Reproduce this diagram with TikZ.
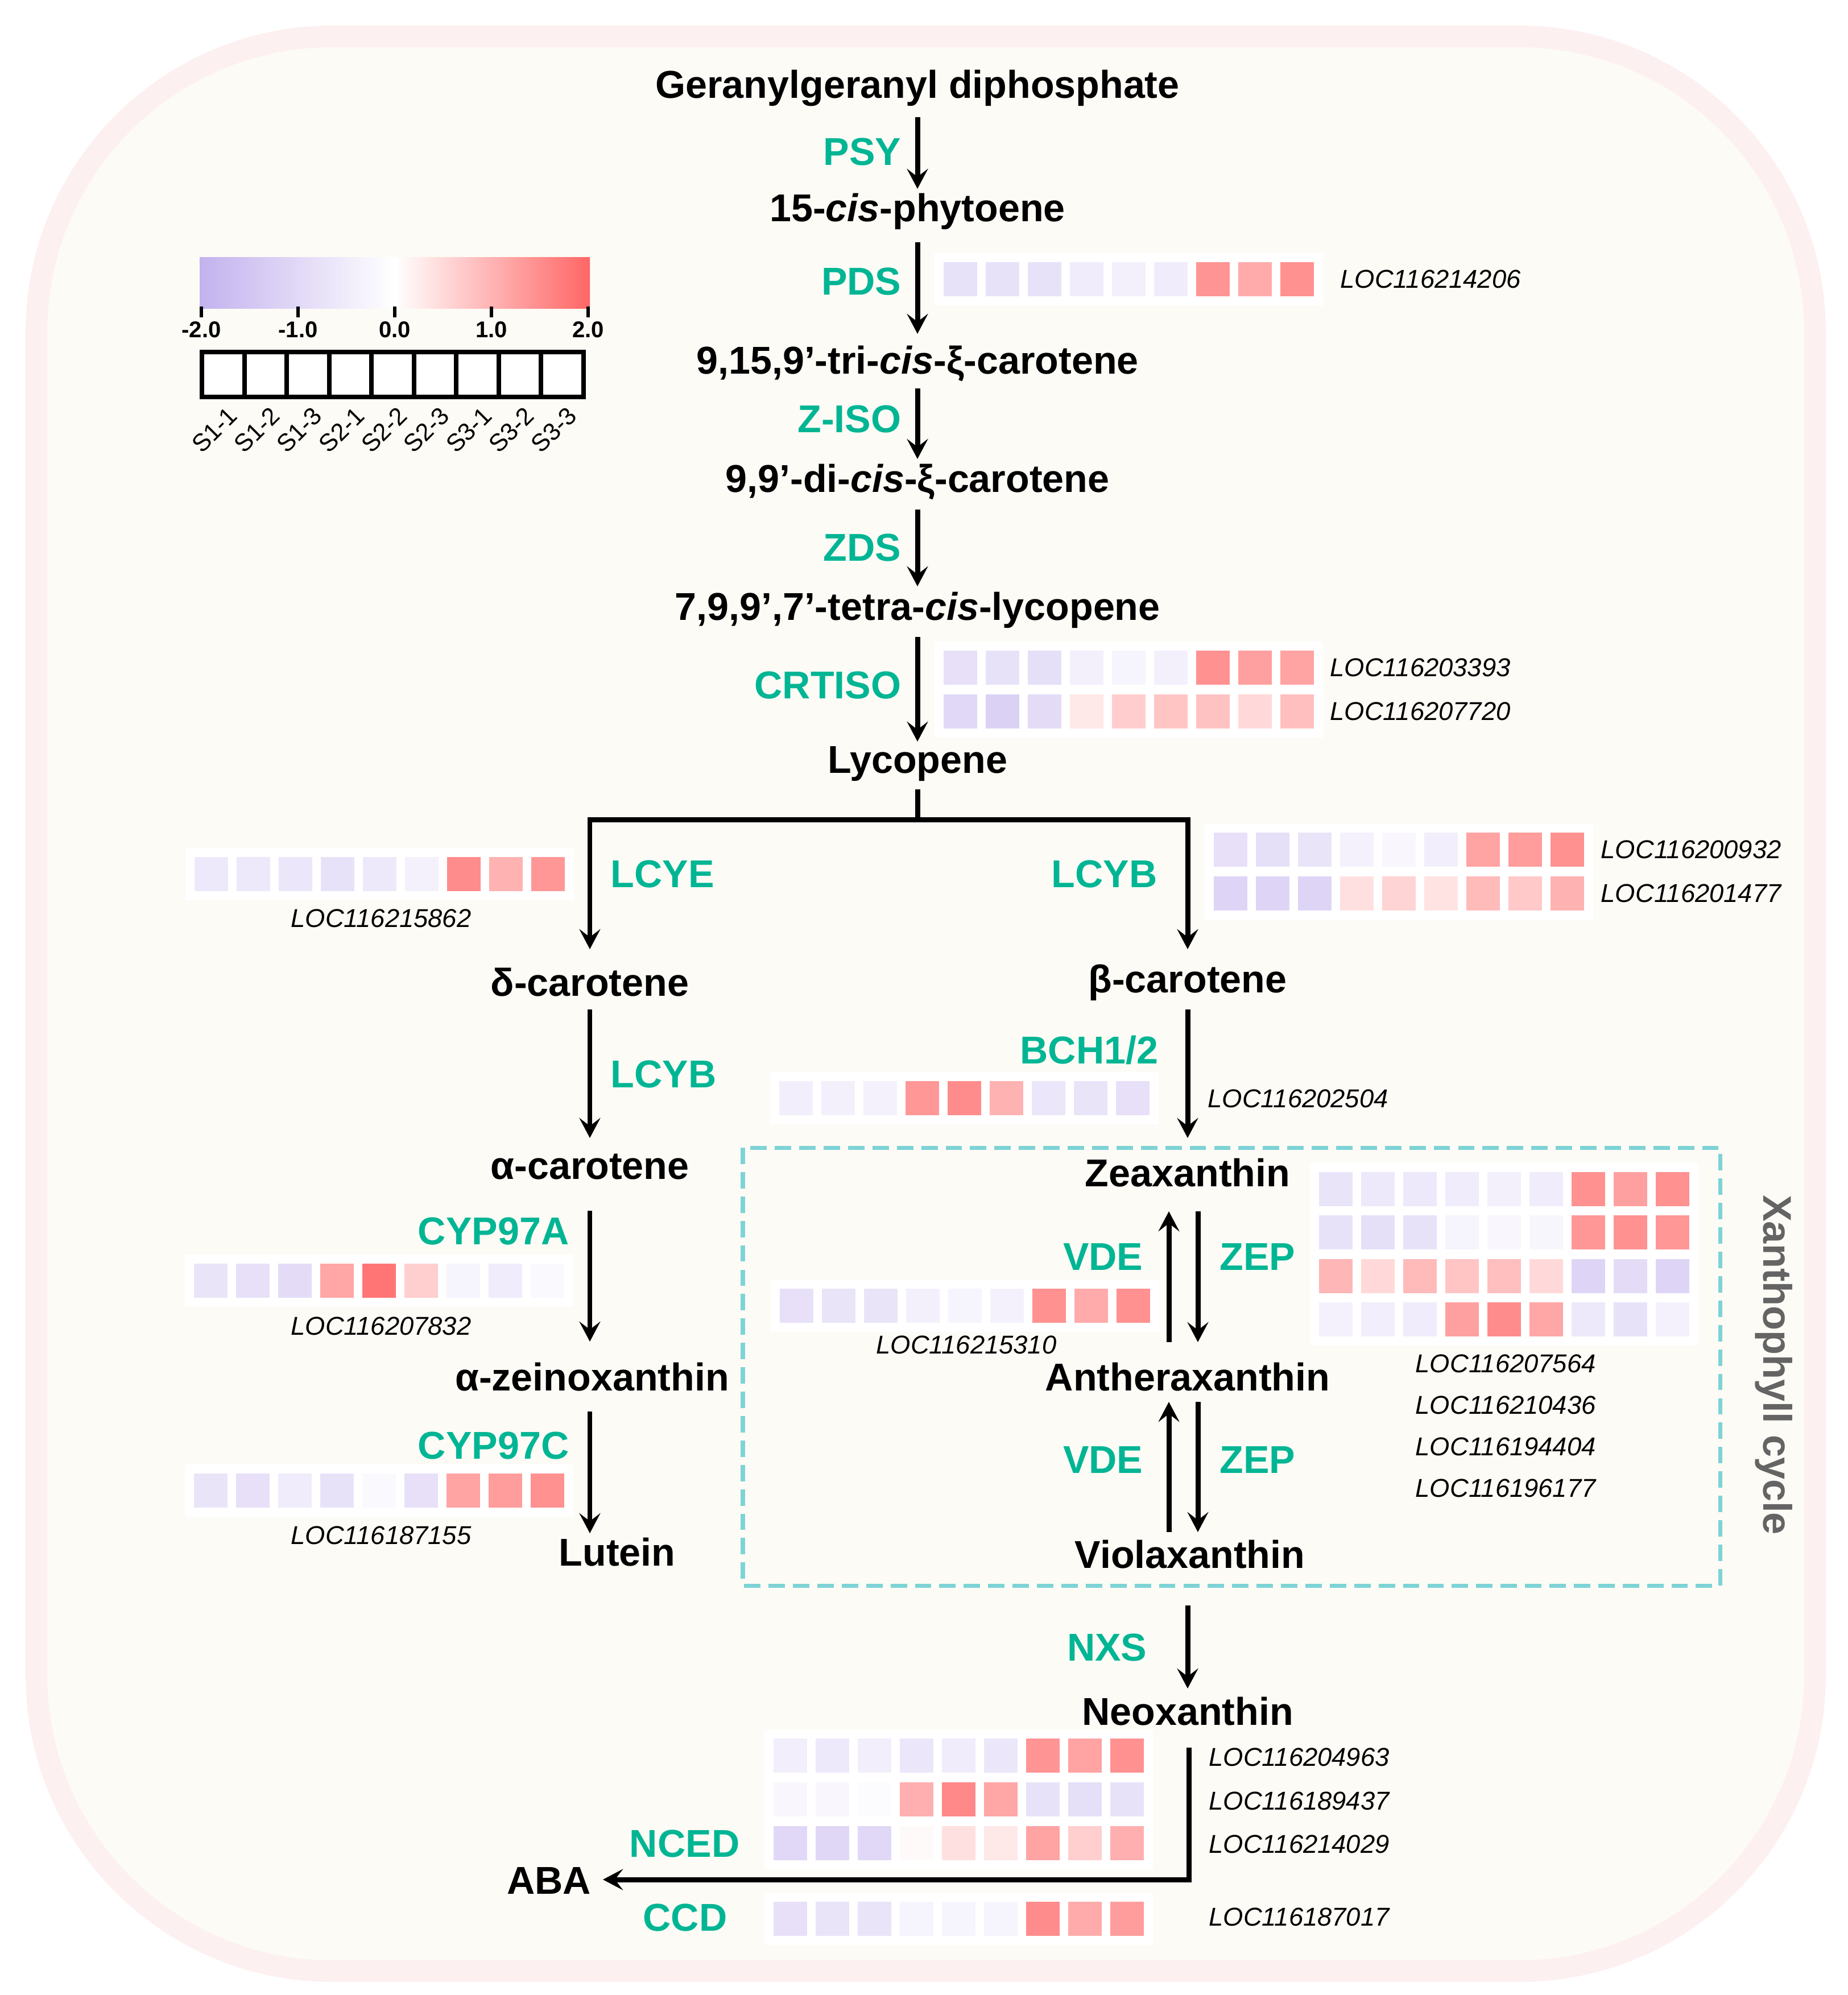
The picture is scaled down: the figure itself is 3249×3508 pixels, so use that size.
\documentclass[tikz,border=0pt]{standalone}
\usepackage{fontspec}
\setmainfont{Liberation Sans}
\usetikzlibrary{arrows.meta}
\definecolor{hmP}{RGB}{195,178,238}
\definecolor{hmR}{RGB}{255,102,102}
\definecolor{enz}{RGB}{0,181,148}
\definecolor{bgpink}{RGB}{253,240,240}
\definecolor{bgcream}{RGB}{253,251,245}
\definecolor{dashc}{RGB}{125,211,214}
\definecolor{xgray}{RGB}{100,100,100}
\newcommand\hmrow[3]{%
  \foreach \v [count=\i from 0] in {#3} {%
    \pgfmathtruncatemacro\a{abs(\v)}%
    \ifnum\v<0 \def\hmc{hmP}\else\def\hmc{hmR}\fi
    \fill[\hmc!\a!white] ({#1+\i*74},{#2-30}) rectangle ++(59,60);
  }%
}
\newcommand\hmbg[3]{\fill[white] ({#1-16},{#2-46}) rectangle ({#1+667},{#3+46});}
\begin{document}
\begin{tikzpicture}[x=0.01cm,y=-0.01cm,
  cmp/.style={font=\fontsize{19.4}{23}\selectfont\bfseries, inner sep=0pt},
  enzl/.style={cmp, text=enz},
  loc/.style={font=\fontsize{12.9}{15}\selectfont\itshape, inner sep=0pt},
  arr/.style={line width=2.55pt, -{Stealth[length=10pt,width=10.5pt,inset=4pt]}},
  plain/.style={line width=2.55pt}]
\useasboundingbox (0,0) rectangle (3249,3508);
\fill[white] (0,0) rectangle (3249,3508);
\draw[bgpink, line width=0.38cm, fill=bgcream, rounded corners=5.2cm] (64,64) rectangle (3191,3466);

% ---------- legend ----------
\shade[left color=hmP, right color=white] (351,452) rectangle (694,542);
\shade[left color=white, right color=hmR] (694,452) rectangle (1037,542);
\foreach \t [count=\k from 0] in {-2.0,-1.0,0.0,1.0,2.0} {
  \draw[line width=1.5pt] ({354+\k*170},539) -- ({354+\k*170},558);
  \node[font=\fontsize{11.4}{13}\selectfont\bfseries, inner sep=0pt] (tk\k) at ({354+\k*170},580) {\t};
}
\draw[line width=2.3pt, fill=white] (355,619) rectangle (1026,698);
\foreach \k in {1,...,8} { \draw[line width=2.3pt] ({355+\k*74.55},619) -- ({355+\k*74.55},698); }
\foreach \s [count=\k from 0] in {S1-1,S1-2,S1-3,S2-1,S2-2,S2-3,S3-1,S3-2,S3-3} {
  \node[rotate=45, font=\fontsize{12.3}{14}\selectfont, inner sep=0pt] (sl\k) at ({377+\k*74.55},756) {\s};
}

% ---------- xanthophyll dashed box ----------
\draw[dashc, line width=2pt, dash pattern=on 8.2pt off 4pt] (1306,2018) rectangle (3024,2788);
\node[cmp, text=xgray, rotate=-90, font=\fontsize{20}{24}\selectfont\bfseries] (xc) at (3119,2400) {Xanthophyll cycle};

% ---------- compounds ----------
\node[cmp] (ggpp) at (1613,155) {Geranylgeranyl diphosphate};
\node[cmp] (phy) at (1613,372) {15-\textit{cis}-phytoene};
\node[cmp] (tri) at (1613,639) {9,15,9’-tri-\textit{cis}-ξ-carotene};
\node[cmp] (di) at (1613,847) {9,9’-di-\textit{cis}-ξ-carotene};
\node[cmp] (tet) at (1613,1073) {7,9,9’,7’-tetra-\textit{cis}-lycopene};
\node[cmp] (lyc) at (1613,1343) {Lycopene};
\node[cmp] (dcar) at (1037,1727) {δ-carotene};
\node[cmp] (bcar) at (2088,1728) {β-carotene};
\node[cmp] (acar) at (1037,2052) {α-carotene};
\node[cmp] (azei) at (1041,2421) {α-zeinoxanthin};
\node[cmp] (lut) at (1085,2729) {Lutein};
\node[cmp] (zea) at (2088,2062) {Zeaxanthin};
\node[cmp] (ant) at (2088,2421) {Antheraxanthin};
\node[cmp] (vio) at (2092,2733) {Violaxanthin};
\node[cmp] (neo) at (2088,3009) {Neoxanthin};
\node[cmp] (aba) at (965,3307) {ABA};

% ---------- enzymes ----------
\node[enzl, anchor=east] (psy) at (1585,267) {PSY};
\node[enzl, anchor=east] (pds) at (1585,495) {PDS};
\node[enzl, anchor=east] (ziso) at (1585,737) {Z-ISO};
\node[enzl, anchor=east] (zds) at (1585,963) {ZDS};
\node[enzl, anchor=east] (crtiso) at (1585,1205) {CRTISO};
\node[enzl, anchor=west] (lcye) at (1073,1537) {LCYE};
\node[enzl, anchor=east] (lcybr) at (2035,1537) {LCYB};
\node[enzl, anchor=west] (lcybl) at (1073,1889) {LCYB};
\node[enzl, anchor=east] (bch) at (2037,1846) {BCH1/2};
\node[enzl, anchor=east] (cypa) at (1001,2165) {CYP97A};
\node[enzl, anchor=east] (cypc) at (1001,2542) {CYP97C};
\node[enzl, anchor=east] (vde1) at (2010,2210) {VDE};
\node[enzl, anchor=west] (zep1) at (2144,2210) {ZEP};
\node[enzl, anchor=east] (vde2) at (2010,2567) {VDE};
\node[enzl, anchor=west] (zep2) at (2144,2567) {ZEP};
\node[enzl, anchor=east] (nxs) at (2017,2897) {NXS};
\node[enzl, anchor=east] (nced) at (1301,3242) {NCED};
\node[enzl, anchor=east] (ccd) at (1279,3372) {CCD};

% ---------- arrow end points ----------
\coordinate (a1s) at (1613,206);  \coordinate (a1e) at (1613,332);
\coordinate (a2s) at (1613,426);  \coordinate (a2e) at (1613,587);
\coordinate (a3s) at (1613,683);  \coordinate (a3e) at (1613,807);
\coordinate (a4s) at (1613,896);  \coordinate (a4e) at (1613,1031);
\coordinate (a5s) at (1613,1120); \coordinate (a5e) at (1613,1304);
\coordinate (b0) at (1613,1388);  \coordinate (b1) at (1613,1441);
\coordinate (bl) at (1037,1441);  \coordinate (ble) at (1037,1669);
\coordinate (br) at (2088,1441);  \coordinate (bre) at (2088,1669);
\coordinate (c1s) at (1037,1775); \coordinate (c1e) at (1037,2001);
\coordinate (c2s) at (1037,2129); \coordinate (c2e) at (1037,2359);
\coordinate (c3s) at (1037,2482); \coordinate (c3e) at (1037,2696);
\coordinate (d1s) at (2088,1775); \coordinate (d1e) at (2088,2001);
\coordinate (z1s) at (2055,2360); \coordinate (z1e) at (2055,2130);
\coordinate (z2s) at (2106,2130); \coordinate (z2e) at (2106,2360);
\coordinate (v1s) at (2055,2694); \coordinate (v1e) at (2055,2465);
\coordinate (v2s) at (2106,2465); \coordinate (v2e) at (2106,2694);
\coordinate (n1s) at (2088,2823); \coordinate (n1e) at (2088,2969);
\coordinate (k0) at (2090,3073);  \coordinate (k1) at (2090,3305);
\coordinate (k2) at (1060,3305);

\draw[arr] (a1s) -- (a1e);
\draw[arr] (a2s) -- (a2e);
\draw[arr] (a3s) -- (a3e);
\draw[arr] (a4s) -- (a4e);
\draw[arr] (a5s) -- (a5e);
\draw[plain] (b0) -- (b1);
\draw[arr, line join=miter] (b1) -- (bl) -- (ble);
\draw[arr, line join=miter] (b1) -- (br) -- (bre);
\draw[arr] (c1s) -- (c1e);
\draw[arr] (c2s) -- (c2e);
\draw[arr] (c3s) -- (c3e);
\draw[arr] (d1s) -- (d1e);
\draw[arr] (z1s) -- (z1e);
\draw[arr] (z2s) -- (z2e);
\draw[arr] (v1s) -- (v1e);
\draw[arr] (v2s) -- (v2e);
\draw[arr] (n1s) -- (n1e);
\draw[arr, line join=miter] (k0) -- (k1) -- (k2);

% ---------- heatmaps ----------
% PDS
\hmbg{1659}{491}{491}
\hmrow{1659}{491}{-38,-38,-38,-25,-20,-25,70,55,72}
\node[loc, anchor=west] (g1) at (2356,491) {LOC116214206};
% CRTISO
\hmbg{1659}{1174}{1251}
\hmrow{1659}{1174}{-40,-38,-42,-20,-15,-20,72,62,60}
\hmrow{1659}{1251}{-50,-60,-45,15,33,38,40,25,42}
\node[loc, anchor=west] (g2) at (2338,1174) {LOC116203393};
\node[loc, anchor=west] (g3) at (2338,1251) {LOC116207720};
% LCYE
\hmbg{342}{1537}{1537}
\hmrow{342}{1537}{-28,-30,-32,-38,-28,-18,75,50,68}
\node[loc] (g4) at (670,1615) {LOC116215862};
% LCYB right
\hmbg{2134}{1494}{1571}
\hmrow{2134}{1494}{-40,-42,-35,-18,-10,-22,60,65,72}
\hmrow{2134}{1571}{-55,-55,-55,20,28,18,45,35,50}
\node[loc, anchor=west] (g5) at (2814,1494) {LOC116200932};
\node[loc, anchor=west] (g6) at (2814,1571) {LOC116201477};
% BCH
\hmbg{1370}{1931}{1931}
\hmrow{1370}{1931}{-22,-20,-18,68,75,50,-32,-35,-40}
\node[loc, anchor=west] (g7) at (2123,1932) {LOC116202504};
% CYP97A
\hmbg{341}{2252}{2252}
\hmrow{341}{2252}{-35,-40,-45,58,90,32,-15,-25,-8}
\node[loc] (g8) at (670,2332) {LOC116207832};
% CYP97C
\hmbg{341}{2621}{2621}
\hmrow{341}{2621}{-35,-40,-25,-38,-8,-40,60,65,72}
\node[loc] (g9) at (670,2700) {LOC116187155};
% VDE
\hmbg{1371}{2296}{2296}
\hmrow{1371}{2296}{-40,-35,-35,-20,-15,-18,72,55,72}
\node[loc] (g10) at (1699,2365) {LOC116215310};
% ZEP
\hmbg{2319}{2091}{2320}
\hmrow{2319}{2091}{-35,-30,-30,-25,-20,-25,72,62,72}
\hmrow{2319}{2167}{-38,-42,-38,-15,-10,-12,68,72,68}
\hmrow{2319}{2244}{48,25,45,38,42,25,-55,-45,-55}
\hmrow{2319}{2320}{-18,-22,-25,62,75,58,-30,-38,-18}
\node[loc, anchor=west] (g11) at (2488,2398) {LOC116207564};
\node[loc, anchor=west] (g12) at (2488,2471) {LOC116210436};
\node[loc, anchor=west] (g13) at (2488,2544) {LOC116194404};
\node[loc, anchor=west] (g14) at (2488,2617) {LOC116196177};
% NCED
\hmbg{1360}{3087}{3241}
\hmrow{1360}{3087}{-22,-28,-22,-32,-25,-32,70,60,72}
\hmrow{1360}{3164}{-10,-10,-5,52,78,58,-38,-42,-38}
\hmrow{1360}{3241}{-50,-52,-50,3,20,15,60,32,52}
\node[loc, anchor=west] (g15) at (2125,3090) {LOC116204963};
\node[loc, anchor=west] (g16) at (2125,3167) {LOC116189437};
\node[loc, anchor=west] (g17) at (2125,3243) {LOC116214029};
% CCD
\hmbg{1360}{3374}{3374}
\hmrow{1360}{3374}{-40,-35,-35,-15,-15,-15,75,55,65}
\node[loc, anchor=west] (g18) at (2125,3371) {LOC116187017};
\end{tikzpicture}
\end{document}
